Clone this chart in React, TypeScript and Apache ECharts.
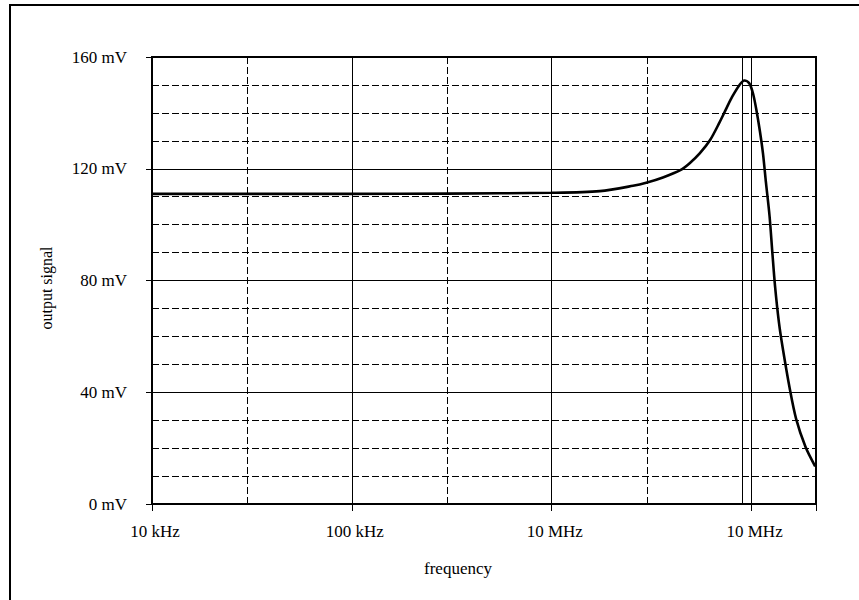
import React, { useEffect, useRef } from "react";
import * as echarts from "echarts";

// Frequency response of the amplifier stage (Hz, mV)
const frequencies = [
  1e4, 3e4, 1e5, 3e5, 1e6, 1.74e6, 2.55e6, 3.0e6, 3.6e6, 4.4e6, 4.9e6, 5.5e6,
  6.2e6, 6.9e6, 7.5e6, 8.0e6, 8.7e6, 9.2e6, 9.75e6, 1.02e7, 1.06e7, 1.1e7,
  1.14e7, 1.18e7, 1.23e7, 1.27e7, 1.31e7, 1.37e7, 1.43e7, 1.55e7, 1.67e7,
  1.86e7, 2.08e7,
];
const outputMv = [
  111.0, 111.0, 111.0, 111.1, 111.4, 112.0, 113.9, 115.1, 116.9, 119.5, 122.0,
  125.5, 130.3, 136.5, 141.8, 145.8, 150.0, 151.6, 150.5, 146.5, 140.5, 133.5,
  125.5, 115.0, 103.0, 90.0, 78.0, 65.0, 56.0, 41.5, 30.5, 20.5, 13.5,
];

// Axis ticks and labels
const freqMin = 1e4;
const freqMax = 2.1e7;
const decadeTickLabels = ["10 kHz", "100 kHz", "10 MHz", "10 MHz"];
const midDecadeLines = [3e4, 3e5, 3e6];
const resonanceLine = [9e6];
const voltMin = 0;
const voltMax = 160;
const voltStep = 40;

const FONT = "'Liberation Serif', 'DejaVu Serif', serif";

export default function App() {
  const ref = useRef<HTMLDivElement>(null);

  useEffect(() => {
    if (!ref.current) return;
    const chart = echarts.init(ref.current, undefined, { renderer: "svg" });

    const dashed = { color: "#000", width: 1, type: [7, 3] as number[] };
    const solid = { color: "#000", width: 1, type: "solid" as const };

    const markData: any[] = [
      ...midDecadeLines.map((f) => ({ xAxis: f, lineStyle: dashed })),
      ...resonanceLine.map((f) => ({ xAxis: f, lineStyle: solid })),
    ];

    chart.setOption({
      animation: false,
      backgroundColor: "#fff",
      textStyle: { fontFamily: FONT, color: "#000" },
      grid: {
        left: 152,
        top: 57,
        right: 43,
        bottom: 96,
        show: true,
        borderColor: "#000",
        borderWidth: 2,
        backgroundColor: "transparent",
      },
      xAxis: {
        type: "log",
        logBase: 10,
        min: freqMin,
        max: freqMax,
        position: "bottom",
        axisLine: { show: true, lineStyle: { color: "#000", width: 2 } },
        axisTick: { show: true, inside: false, length: 7, lineStyle: { color: "#000", width: 1 } },
        axisLabel: {
          show: true,
          margin: 19,
          fontFamily: FONT,
          fontSize: 17,
          color: "#000",
          padding: [0, 0, 0, 6],
          formatter: (v: number) => {
            const e = Math.log10(v);
            const r = Math.round(e);
            if (Math.abs(e - r) > 1e-6) return "";
            return decadeTickLabels[r - 4] ?? "";
          },
        },
        splitLine: { show: true, lineStyle: solid },
      },
      yAxis: {
        type: "value",
        min: voltMin,
        max: voltMax,
        interval: voltStep,
        axisLine: { show: true, lineStyle: { color: "#000", width: 2 } },
        axisTick: { show: true, inside: false, length: 6, lineStyle: { color: "#000", width: 1 } },
        axisLabel: {
          margin: 25,
          fontFamily: FONT,
          fontSize: 17,
          color: "#000",
          formatter: (v: number) => `${v} mV`,
        },
        splitLine: { show: true, lineStyle: solid },
        minorTick: { show: false, splitNumber: 4 },
        minorSplitLine: { show: true, lineStyle: dashed },
      },
      series: [
        {
          type: "line",
          data: frequencies.map((f, i) => [f, outputMv[i]]),
          smooth: 0.3,
          showSymbol: false,
          symbol: "none",
          lineStyle: { color: "#000", width: 2.6 },
          z: 5,
          markLine: {
            silent: true,
            symbol: ["none", "none"],
            label: { show: false },
            data: markData,
          },
        },
      ],
      graphic: [
        {
          type: "polyline",
          shape: { points: [[10, 600], [10, 5], [859, 5]] },
          style: { stroke: "#000", lineWidth: 2, fill: "none" },
          silent: true,
        },
        {
          type: "text",
          x: 46,
          y: 288,
          rotation: Math.PI / 2,
          style: {
            text: "output signal",
            fontFamily: FONT,
            fontSize: 16,
            fill: "#000",
            align: "center",
            verticalAlign: "middle",
          },
        },
        {
          type: "text",
          x: 458,
          y: 568,
          style: {
            text: "frequency",
            fontFamily: FONT,
            fontSize: 17,
            fill: "#000",
            align: "center",
            verticalAlign: "middle",
          },
        },
      ],
    });

    return () => chart.dispose();
  }, []);

  return (
    <div
      ref={ref}
      style={{ position: "absolute", left: 0, top: 0, width: 859, height: 600 }}
    />
  );
}
